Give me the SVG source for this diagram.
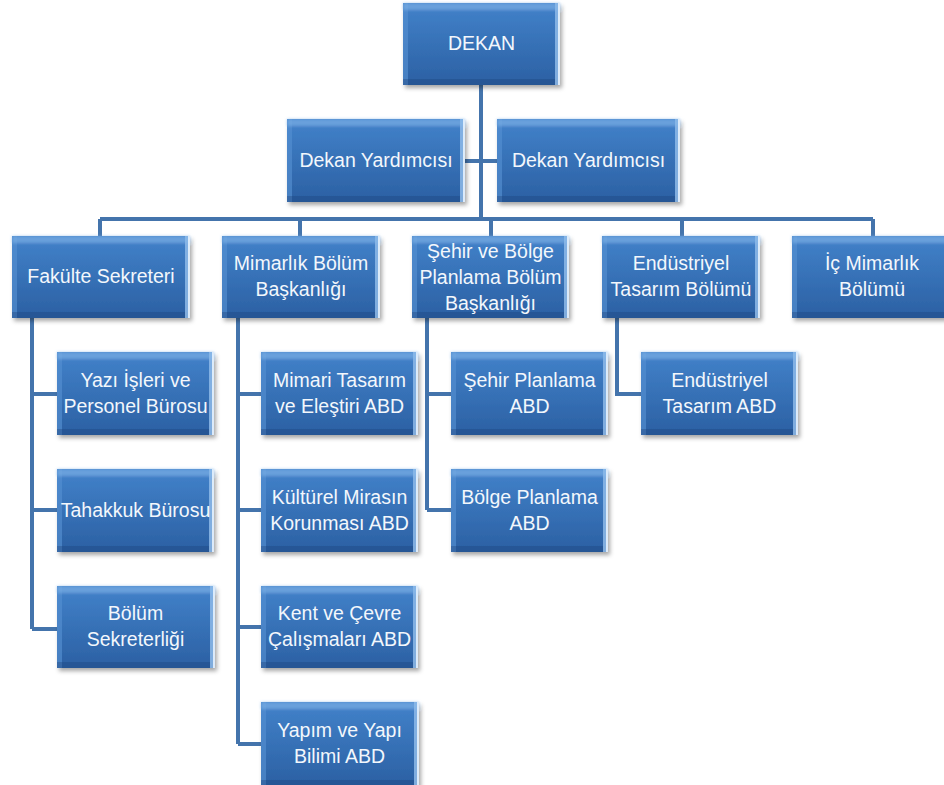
<svg xmlns="http://www.w3.org/2000/svg" width="944" height="785" viewBox="0 0 944 785">
<defs>
<linearGradient id="g" x1="0" y1="0" x2="0" y2="1">
<stop offset="0" stop-color="#4282ca"/>
<stop offset="1" stop-color="#2b60a3"/>
</linearGradient>
<filter id="bev" x="-0.06" y="-0.1" width="1.14" height="1.3">
<feGaussianBlur in="SourceAlpha" stdDeviation="2" result="sb"/>
<feOffset in="sb" dx="2" dy="3" result="so"/>
<feFlood flood-color="#000" flood-opacity="0.35"/>
<feComposite in2="so" operator="in" result="shadow"/>
<feOffset in="SourceAlpha" dy="7" result="a"/>
<feComposite in="SourceAlpha" in2="a" operator="out" result="tb"/>
<feFlood flood-color="#7db2e8" flood-opacity="0.6"/>
<feComposite in2="tb" operator="in" result="top0"/>
<feGaussianBlur in="top0" stdDeviation="1.5" result="top"/>
<feOffset in="SourceAlpha" dy="-6" result="b"/>
<feComposite in="SourceAlpha" in2="b" operator="out" result="bb"/>
<feFlood flood-color="#1d4c85" flood-opacity="0.5"/>
<feComposite in2="bb" operator="in" result="bot"/>
<feOffset in="SourceAlpha" dx="-5" result="c"/>
<feComposite in="SourceAlpha" in2="c" operator="out" result="rb"/>
<feFlood flood-color="#8dbbea" flood-opacity="0.8"/>
<feComposite in2="rb" operator="in" result="right"/>
<feOffset in="SourceAlpha" dx="-2" result="c2"/>
<feComposite in="SourceAlpha" in2="c2" operator="out" result="rb2"/>
<feFlood flood-color="#e4f0fc" flood-opacity="0.9"/>
<feComposite in2="rb2" operator="in" result="right2"/>
<feOffset in="SourceAlpha" dx="5" result="d"/>
<feComposite in="SourceAlpha" in2="d" operator="out" result="lb"/>
<feFlood flood-color="#5590d2" flood-opacity="0.6"/>
<feComposite in2="lb" operator="in" result="left"/>
<feMerge>
<feMergeNode in="shadow"/>
<feMergeNode in="SourceGraphic"/>
<feMergeNode in="left"/>
<feMergeNode in="bot"/>
<feMergeNode in="top"/>
<feMergeNode in="right"/>
<feMergeNode in="right2"/>
</feMerge>
</filter>
</defs>
<style>
.box{fill:url(#g);filter:url(#bev);}
.t{font-family:"Liberation Sans",Arial,sans-serif;font-size:19.5px;fill:#f3f7fc;text-anchor:middle;}
.c{fill:none;stroke:#4474ac;stroke-width:4;}
</style>
<rect width="944" height="785" fill="#ffffff"/>
<g id="connectors">
<path class="c" d="M481 85V219M465 161H497M100 219H873M100 219V236M300 219V236M491 219V236M682 219V236M873 219V236"/>
<path class="c" d="M32 318V629M32 394H57M32 510H57M32 629H57"/>
<path class="c" d="M238 318V744M238 394H261M238 510H261M238 627H261M238 744H261"/>
<path class="c" d="M427 318V510M427 394H451M427 510H451"/>
<path class="c" d="M617 318V394H641"/>
</g>
<g id="dekan"><rect class="box" x="403" y="3" width="157" height="82"/><text class="t" x="481.5" y="50">DEKAN</text></g>
<g id="dekan-yard-1"><rect class="box" x="287" y="119" width="178" height="83"/><text class="t" x="376" y="167">Dekan Yardımcısı</text></g>
<g id="dekan-yard-2"><rect class="box" x="497" y="119" width="183" height="83"/><text class="t" x="588.5" y="167">Dekan Yardımcısı</text></g>
<g id="fakulte-sekreteri"><rect class="box" x="12" y="236" width="178" height="82"/><text class="t" x="101" y="283">Fakülte Sekreteri</text></g>
<g id="mimarlik"><rect class="box" x="222" y="236" width="158" height="82"/><text class="t" x="301" y="270">Mimarlık Bölüm</text><text class="t" x="301" y="296">Başkanlığı</text></g>
<g id="sehir-bolge"><rect class="box" x="412" y="236" width="157" height="82"/><text class="t" x="490.5" y="258">Şehir ve Bölge</text><text class="t" x="490.5" y="284">Planlama Bölüm</text><text class="t" x="490.5" y="310">Başkanlığı</text></g>
<g id="endustriyel"><rect class="box" x="602" y="236" width="158" height="82"/><text class="t" x="681" y="270">Endüstriyel</text><text class="t" x="681" y="296">Tasarım Bölümü</text></g>
<g id="ic-mimarlik"><rect class="box" x="792" y="236" width="160" height="82"/><text class="t" x="872" y="270">İç Mimarlık</text><text class="t" x="872" y="296">Bölümü</text></g>
<g id="yazi-isleri"><rect class="box" x="57" y="352" width="157" height="83"/><text class="t" x="135.5" y="386.5">Yazı İşleri ve</text><text class="t" x="135.5" y="412.5">Personel Bürosu</text></g>
<g id="tahakkuk"><rect class="box" x="57" y="469" width="157" height="83"/><text class="t" x="135.5" y="517">Tahakkuk Bürosu</text></g>
<g id="bolum-sekreterligi"><rect class="box" x="57" y="586" width="158" height="82"/><text class="t" x="135.5" y="620">Bölüm</text><text class="t" x="135.5" y="646">Sekreterliği</text></g>
<g id="mimari-tasarim"><rect class="box" x="261" y="352" width="157" height="83"/><text class="t" x="339.5" y="386.5">Mimari Tasarım</text><text class="t" x="339.5" y="412.5">ve Eleştiri ABD</text></g>
<g id="kulturel-miras"><rect class="box" x="261" y="469" width="157" height="83"/><text class="t" x="339.5" y="503.5">Kültürel Mirasın</text><text class="t" x="339.5" y="529.5">Korunması ABD</text></g>
<g id="kent-cevre"><rect class="box" x="261" y="586" width="157" height="82"/><text class="t" x="339.5" y="620">Kent ve Çevre</text><text class="t" x="339.5" y="646">Çalışmaları ABD</text></g>
<g id="yapim-yapi"><rect class="box" x="261" y="702" width="158" height="84"/><text class="t" x="339.5" y="736.5">Yapım ve Yapı</text><text class="t" x="339.5" y="762.5">Bilimi ABD</text></g>
<g id="sehir-planlama"><rect class="box" x="451" y="352" width="157" height="83"/><text class="t" x="529.5" y="386.5">Şehir Planlama</text><text class="t" x="529.5" y="412.5">ABD</text></g>
<g id="bolge-planlama"><rect class="box" x="451" y="469" width="157" height="83"/><text class="t" x="529.5" y="503.5">Bölge Planlama</text><text class="t" x="529.5" y="529.5">ABD</text></g>
<g id="endustriyel-tasarim-abd"><rect class="box" x="641" y="352" width="157" height="83"/><text class="t" x="719.5" y="386.5">Endüstriyel</text><text class="t" x="719.5" y="412.5">Tasarım ABD</text></g>
</svg>
